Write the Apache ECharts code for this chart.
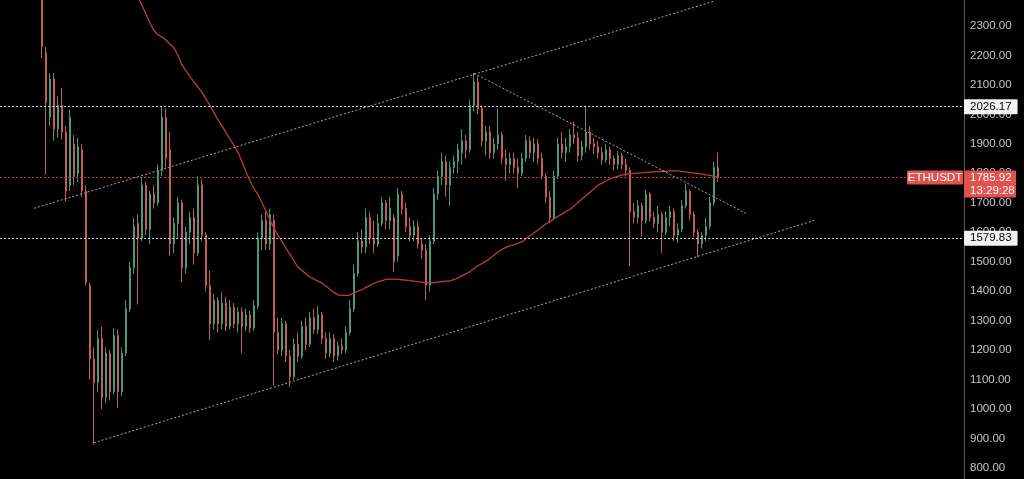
<!DOCTYPE html>
<html>
<head>
<meta charset="utf-8">
<script src="https://cdn.jsdelivr.net/npm/echarts@6/dist/echarts.min.js"></script>
<style>
html, body { margin: 0; padding: 0; background: #000; }
#chart { width: 1024px; height: 479px; }
</style>
</head>
<body>
<div id="chart"></div>
<script>
// ETHUSDT candles, [open, close, low, high]
const candles = [
  [2480, 2230, 2190, 2540], [2210, 2040, 1795, 2230], [1990, 2120, 1960, 2140], [2120, 1950, 1910, 2140],
  [1950, 2030, 1920, 2060], [2030, 1940, 1915, 2090], [1940, 1740, 1705, 1960], [1760, 1990, 1740, 2015],
  [1900, 1790, 1760, 1930], [1800, 1890, 1770, 1920], [1880, 1740, 1720, 1900], [1740, 1430, 1420, 1760],
  [1420, 1170, 1100, 1430], [1170, 1090, 880, 1210], [1090, 1240, 1060, 1270], [1240, 1040, 1000, 1280],
  [1040, 1190, 1020, 1210], [1190, 1060, 1030, 1200], [1060, 1250, 1050, 1275], [1250, 1060, 1005, 1270],
  [1060, 1190, 1045, 1210], [1190, 1340, 1180, 1370], [1340, 1480, 1330, 1500], [1480, 1620, 1460, 1650],
  [1630, 1580, 1355, 1660], [1580, 1760, 1570, 1785], [1760, 1610, 1590, 1770], [1610, 1730, 1560, 1740],
  [1730, 1700, 1680, 1760], [1700, 1810, 1690, 1830], [1810, 1990, 1790, 2025], [1990, 1850, 1820, 2020],
  [1880, 1560, 1520, 1940], [1560, 1630, 1530, 1650], [1630, 1700, 1580, 1720], [1700, 1480, 1430, 1710],
  [1480, 1600, 1460, 1620], [1600, 1650, 1560, 1670], [1650, 1530, 1490, 1680], [1530, 1760, 1520, 1790],
  [1760, 1590, 1570, 1780], [1590, 1420, 1400, 1600], [1420, 1290, 1235, 1470], [1290, 1370, 1270, 1390],
  [1370, 1290, 1260, 1380], [1290, 1360, 1270, 1395], [1360, 1280, 1265, 1380], [1280, 1345, 1270, 1370],
  [1345, 1290, 1275, 1360], [1290, 1330, 1260, 1345], [1330, 1280, 1190, 1345], [1280, 1320, 1265, 1340],
  [1320, 1275, 1260, 1335], [1275, 1350, 1265, 1370], [1350, 1580, 1340, 1600], [1580, 1640, 1540, 1660],
  [1640, 1560, 1540, 1670], [1560, 1660, 1540, 1680], [1640, 1260, 1080, 1660], [1260, 1200, 1185, 1310],
  [1200, 1290, 1180, 1310], [1290, 1180, 1160, 1300], [1180, 1110, 1075, 1200], [1110, 1220, 1100, 1240],
  [1220, 1180, 1160, 1260], [1180, 1280, 1170, 1300], [1280, 1220, 1200, 1310], [1220, 1310, 1210, 1330],
  [1310, 1270, 1255, 1340], [1270, 1320, 1255, 1350], [1320, 1240, 1220, 1330], [1240, 1190, 1170, 1260],
  [1190, 1240, 1175, 1260], [1240, 1180, 1160, 1255], [1180, 1215, 1165, 1230], [1215, 1200, 1185, 1240],
  [1200, 1260, 1190, 1280], [1260, 1340, 1250, 1370], [1340, 1460, 1330, 1490], [1460, 1570, 1450, 1600],
  [1570, 1550, 1530, 1610], [1550, 1650, 1530, 1680], [1650, 1580, 1560, 1670], [1580, 1560, 1530, 1640],
  [1560, 1630, 1550, 1660], [1630, 1700, 1620, 1720], [1700, 1640, 1610, 1710], [1640, 1680, 1610, 1720],
  [1650, 1500, 1465, 1660], [1520, 1730, 1500, 1750], [1730, 1680, 1660, 1740], [1680, 1620, 1600, 1700],
  [1620, 1590, 1570, 1650], [1590, 1620, 1570, 1640], [1620, 1560, 1545, 1640], [1560, 1540, 1510, 1580],
  [1540, 1420, 1370, 1560], [1420, 1570, 1400, 1590], [1570, 1730, 1560, 1750], [1730, 1790, 1710, 1810],
  [1790, 1840, 1760, 1870], [1840, 1760, 1720, 1860], [1760, 1820, 1690, 1840], [1820, 1840, 1800, 1860],
  [1840, 1880, 1800, 1900], [1870, 1910, 1830, 1950], [1910, 1880, 1850, 1930], [1880, 2030, 1870, 2050],
  [2030, 2110, 2010, 2140], [2110, 2020, 2000, 2130], [2020, 1910, 1890, 2030], [1910, 1940, 1860, 1960],
  [1940, 1870, 1850, 1960], [1870, 1900, 1850, 1920], [1900, 1930, 1880, 2020], [1930, 1850, 1830, 1940],
  [1850, 1830, 1775, 1880], [1830, 1850, 1800, 1870], [1850, 1820, 1800, 1870], [1820, 1800, 1750, 1850],
  [1800, 1850, 1790, 1870], [1850, 1910, 1840, 1930], [1910, 1870, 1850, 1925], [1870, 1900, 1840, 1920],
  [1900, 1850, 1830, 1915], [1850, 1790, 1780, 1870], [1790, 1720, 1700, 1800], [1720, 1650, 1630, 1740],
  [1650, 1790, 1640, 1810], [1790, 1900, 1780, 1920], [1900, 1870, 1850, 1940], [1870, 1890, 1840, 1920],
  [1890, 1930, 1870, 1950], [1930, 1920, 1900, 1975], [1920, 1860, 1840, 1940], [1860, 1890, 1845, 1910],
  [1890, 1940, 1870, 2030], [1940, 1900, 1880, 1960], [1900, 1890, 1865, 1920], [1890, 1870, 1850, 1910],
  [1870, 1845, 1830, 1890], [1845, 1880, 1835, 1900], [1880, 1850, 1830, 1890], [1850, 1830, 1810, 1860],
  [1830, 1860, 1815, 1875], [1860, 1830, 1815, 1870], [1830, 1810, 1790, 1850], [1810, 1670, 1485, 1820],
  [1670, 1650, 1630, 1700], [1650, 1690, 1630, 1710], [1690, 1640, 1585, 1700], [1640, 1730, 1630, 1745],
  [1730, 1650, 1635, 1735], [1650, 1630, 1615, 1670], [1630, 1660, 1600, 1690], [1660, 1600, 1530, 1670],
  [1600, 1650, 1590, 1670], [1650, 1670, 1620, 1690], [1670, 1590, 1570, 1680], [1590, 1610, 1565, 1630],
  [1610, 1690, 1600, 1710], [1690, 1740, 1680, 1765], [1740, 1660, 1640, 1745], [1660, 1600, 1585, 1670],
  [1600, 1560, 1515, 1610], [1560, 1590, 1545, 1600], [1590, 1620, 1570, 1650], [1620, 1700, 1610, 1720],
  [1700, 1820, 1690, 1840], [1820, 1785.92, 1770, 1870]
];

// moving average (red line); it comes in from the top at candle 23
const maStart = 23;
const ma = [
  2440, 2400, 2370, 2340, 2310, 2285, 2270, 2262, 2252, 2238, 2225, 2200, 2168, 2148, 2128, 2110,
  2092, 2075, 2052, 2030, 2005, 1981, 1960, 1938, 1916, 1895, 1870, 1840, 1805, 1775, 1748, 1728,
  1700, 1672, 1642, 1614, 1590, 1568, 1546, 1525, 1503, 1482, 1470, 1459, 1448, 1441, 1434, 1428,
  1417, 1406, 1396, 1388, 1386, 1386, 1388, 1394, 1400, 1405, 1413, 1420, 1427, 1432, 1436, 1440,
  1441, 1441, 1440, 1439, 1438, 1436, 1434, 1432, 1431, 1429, 1428, 1429, 1431, 1433, 1434, 1435,
  1440, 1445, 1452, 1459, 1467, 1477, 1487, 1494, 1502, 1511, 1522, 1533, 1542, 1549, 1554, 1558,
  1563, 1567, 1578, 1588, 1598, 1608, 1618, 1628, 1637, 1646, 1654, 1662, 1671, 1678, 1689, 1701,
  1713, 1725, 1736, 1748, 1760, 1767, 1774, 1781, 1786, 1790, 1794, 1797, 1799, 1800, 1801, 1802,
  1803, 1804, 1805, 1806, 1807, 1807, 1808, 1808, 1808, 1806, 1805, 1803, 1801, 1799, 1797, 1795,
  1793, 1790, 1787
];

const yTicks = [800, 900, 1000, 1100, 1200, 1300, 1400, 1500, 1600, 1700, 1800, 1900, 2000, 2100, 2200, 2300];
const levels = [2026.17, 1579.83];
// drawn trend lines: [from slot, from price, to slot, to price]
const trendLines = [
  [8, 1681, 178, 2384],
  [23, 886, 203, 1640],
  [118, 2139, 186, 1664]
];
const countdown = '13:29:28';

const lead = 10;          // empty slots before the first candle
const totalSlots = 241;   // includes the empty space on the right
const GRID_RIGHT = 60;
const font = '"Liberation Sans", Arial, sans-serif';
const fontSize = 11.5;

const categories = [];
for (let i = 0; i < totalSlots; i++) {
  const d = new Date(Date.UTC(2022, 3, 10) + i * 3 * 86400000);
  categories.push(d.toISOString().slice(0, 10));
}
const candleData = Array(lead).fill('-').concat(candles);
const maData = Array(lead + maStart).fill('-').concat(ma);
const lastPrice = candles[candles.length - 1][1];

const dotted = (color) => ({ color: color, width: 1, type: [2, 2] });
const tagLabel = (text) => ({
  show: true,
  position: 'end',
  distance: 0,
  formatter: text,
  color: '#000',
  backgroundColor: '#f2f2f2',
  padding: [2, 6, 1, 6],
  borderRadius: 1,
  fontSize: fontSize,
  fontFamily: font
});

const chart = echarts.init(document.getElementById('chart'));
chart.setOption({
  backgroundColor: '#000',
  animation: false,
  grid: { left: 0, right: GRID_RIGHT, top: 0, bottom: 0 },
  xAxis: {
    type: 'category',
    data: categories,
    boundaryGap: true,
    show: false
  },
  yAxis: {
    type: 'value',
    position: 'right',
    min: 763,
    max: 2388,
    axisLine: { show: true, lineStyle: { color: '#5a5a5a' } },
    axisTick: { show: false },
    splitLine: { show: false },
    axisLabel: {
      customValues: yTicks,
      formatter: (v) => v.toFixed(2),
      color: '#c8c8c8',
      fontSize: fontSize,
      fontFamily: font,
      margin: 6
    }
  },
  series: [
    {
      name: 'ETHUSDT',
      type: 'candlestick',
      data: candleData,
      barWidth: 2,
      itemStyle: {
        color: '#4a9880',
        color0: '#c45f58',
        borderColor: '#4a9880',
        borderColor0: '#c45f58',
        borderWidth: 1
      },
      markLine: {
        symbol: ['none', 'none'],
        silent: true,
        animation: false,
        label: { show: false },
        data: [
          ...trendLines.map((t) => [
            { coord: [categories[t[0]], t[1]], lineStyle: dotted('#a8a8a8') },
            { coord: [categories[t[2]], t[3]] }
          ]),
          { yAxis: levels[0], lineStyle: dotted('#d4d4d4'), label: tagLabel(levels[0].toFixed(2)) },
          { yAxis: levels[1], lineStyle: dotted('#d4d4d4'), label: tagLabel(levels[1].toFixed(2)) },
          { yAxis: lastPrice, lineStyle: dotted('#b8443f'), label: { show: false } }
        ]
      }
    },
    {
      name: 'MA',
      type: 'line',
      data: maData,
      showSymbol: false,
      symbol: 'none',
      smooth: 0.2,
      lineStyle: { color: '#b93c3d', width: 1.3 }
    }
  ]
});

// price tags for the current price, placed from the axis scale
const yNow = chart.convertToPixel({ yAxisIndex: 0 }, lastPrice);
const axisX = chart.getWidth() - GRID_RIGHT;
const tagFont = fontSize + 'px ' + font;
chart.setOption({
  graphic: [
    { type: 'rect', z: 100, shape: { x: axisX - 57, y: yNow - 7, width: 56, height: 14, r: 1 }, style: { fill: '#e0524e' } },
    { type: 'text', z: 101, x: axisX - 29, y: yNow + 0.5, style: { text: 'ETHUSDT', fill: '#fff', font: tagFont, align: 'center', verticalAlign: 'middle' } },
    { type: 'rect', z: 100, shape: { x: axisX, y: yNow - 7, width: 52, height: 27, r: 1 }, style: { fill: '#e0524e' } },
    { type: 'text', z: 101, x: axisX + 6, y: yNow + 0.5, style: { text: lastPrice.toFixed(2), fill: '#fff', font: tagFont, align: 'left', verticalAlign: 'middle' } },
    { type: 'text', z: 101, x: axisX + 6, y: yNow + 13, style: { text: countdown, fill: '#fff', font: tagFont, align: 'left', verticalAlign: 'middle' } }
  ]
});
</script>
</body>
</html>
